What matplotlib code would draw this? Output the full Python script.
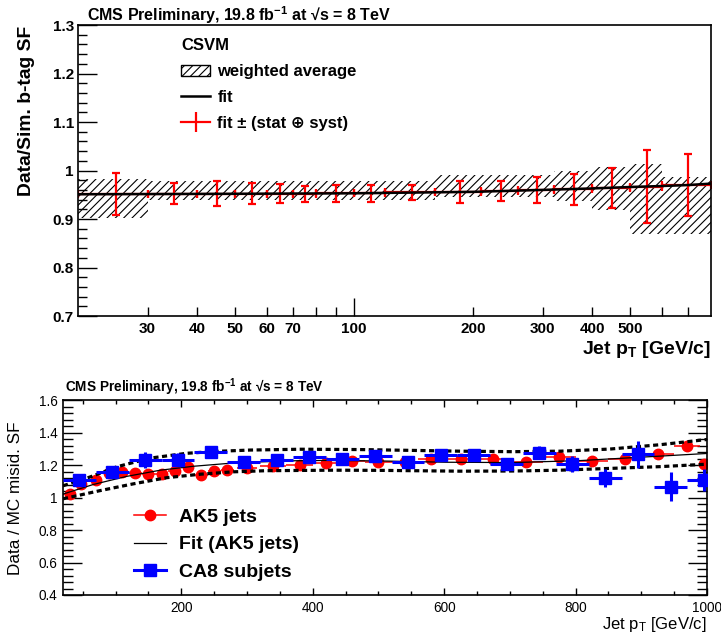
import matplotlib
matplotlib.use('Agg')
import matplotlib.pyplot as plt
import numpy as np
from matplotlib.lines import Line2D
from matplotlib.patches import Patch

plt.rcParams['font.family'] = ['Liberation Sans', 'DejaVu Sans']
plt.rcParams['mathtext.fontset'] = 'custom'
plt.rcParams['mathtext.rm'] = 'Liberation Sans'
plt.rcParams['mathtext.bf'] = 'Liberation Sans:bold'
plt.rcParams['mathtext.it'] = 'Liberation Sans:italic'
plt.rcParams['hatch.linewidth'] = 0.8

# ---- top panel: CSVM b-tag scale factor ----
bin_edges = [20, 30, 40, 50, 60, 70, 80, 100, 120, 160, 210, 260, 320, 400, 500, 600, 800]
bin_pt = [25, 35, 45, 55, 65, 75, 90, 110, 140, 185, 235, 290, 360, 450, 550, 700]
fit_sf = [0.952, 0.952, 0.952, 0.952, 0.952, 0.952, 0.953, 0.953, 0.955, 0.956,
          0.958, 0.960, 0.961, 0.964, 0.967, 0.970]
fit_err = [0.043, 0.022, 0.026, 0.022, 0.020, 0.016, 0.018, 0.017, 0.016, 0.022,
           0.021, 0.027, 0.032, 0.042, 0.076, 0.063]
fitline_pt = [20, 50, 100, 200, 300, 400, 500, 600, 700, 800]
fitline_sf = [0.951, 0.952, 0.953, 0.956, 0.960, 0.963, 0.966, 0.968, 0.970, 0.973]
wavg_edges = [20, 30, 160, 320, 400, 500, 600, 800]
wavg_lo = [0.903, 0.940, 0.946, 0.938, 0.918, 0.870, 0.870]
wavg_hi = [0.983, 0.978, 0.990, 1.000, 1.007, 1.014, 0.986]

# ---- bottom panel: mistag SF ----
ak5_pt = [30, 47, 70, 90, 110, 130, 150, 170, 190, 210, 230, 250, 270, 300, 340,
          380, 420, 460, 500, 540, 580, 625, 675, 725, 775, 825, 875, 925, 970, 995]
ak5_sf = [1.024, 1.086, 1.110, 1.153, 1.157, 1.153, 1.143, 1.146, 1.166, 1.186,
          1.138, 1.162, 1.168, 1.181, 1.195, 1.201, 1.212, 1.225, 1.218, 1.220,
          1.235, 1.235, 1.235, 1.220, 1.247, 1.227, 1.239, 1.265, 1.316, 1.206]
ak5_xerr = [10, 10, 10, 10, 10, 10, 10, 10, 10, 10, 10, 10, 10, 15, 20,
            20, 20, 20, 20, 20, 20, 25, 25, 25, 25, 25, 25, 25, 20, 5]
ak5_yerr = [0.01] * 30

ca8_pt = [45, 95, 145, 195, 245, 295, 345, 395, 445, 495,
          545, 595, 645, 695, 745, 795, 845, 895, 945, 995]
ca8_sf = [1.108, 1.159, 1.231, 1.231, 1.278, 1.216, 1.231, 1.251, 1.239, 1.257,
          1.220, 1.259, 1.259, 1.204, 1.276, 1.204, 1.122, 1.265, 1.067, 1.108]
ca8_yerr = [0.01, 0.015, 0.05, 0.04, 0.035, 0.02, 0.02, 0.02, 0.02, 0.02,
            0.02, 0.02, 0.02, 0.03, 0.038, 0.05, 0.055, 0.085, 0.09, 0.065]
ca8_xerr = [25] * 20

fit5_pt = [20, 66, 117, 168, 218, 269, 320, 371, 421, 502, 603, 705, 806, 908, 1000]
fit5_sf = [1.021, 1.08, 1.13, 1.168, 1.192, 1.209, 1.219, 1.226, 1.228, 1.225,
           1.217, 1.215, 1.227, 1.250, 1.271]
up_pt = [20, 61, 102, 152, 208, 254, 305, 381, 472, 550, 624, 705, 776, 852, 929, 1000]
up_sf = [1.072, 1.126, 1.189, 1.242, 1.272, 1.284, 1.292, 1.297, 1.295, 1.290,
         1.285, 1.282, 1.285, 1.298, 1.325, 1.357]
lo_pt = [20, 76, 127, 178, 228, 279, 330, 431, 502, 624, 705, 776, 852, 929, 1000]
lo_sf = [0.992, 1.042, 1.084, 1.122, 1.143, 1.158, 1.165, 1.168, 1.167, 1.162,
         1.163, 1.168, 1.179, 1.190, 1.205]

fig = plt.figure(figsize=(7.21, 6.32), dpi=100)

# ================= top =================
ax1 = fig.add_axes([78/721, 1-316/632, 633/721, 291/632])
ax1.set_xscale('log')
ax1.set_xlim(20, 800)
ax1.set_ylim(0.7, 1.3)

e = np.array(wavg_edges)
ax1.bar(e[:-1], np.array(wavg_hi) - np.array(wavg_lo), width=np.diff(e),
        bottom=wavg_lo, align='edge', fill=False, hatch='////',
        edgecolor='black', linewidth=0, zorder=1)

be = np.array(bin_edges)
c = np.array(bin_pt)
ax1.errorbar(bin_pt, fit_sf, yerr=fit_err, xerr=[c - be[:-1], be[1:] - c],
             fmt='none', ecolor='red', elinewidth=1.6, capsize=3,
             capthick=1.6, zorder=2)
ax1.plot(fitline_pt, fitline_sf, color='black', lw=1.8, zorder=3)

ax1.set_yticks(np.arange(0.7, 1.31, 0.1))
ax1.set_yticklabels(['0.7', '0.8', '0.9', '1', '1.1', '1.2', '1.3'])
ax1.set_yticks(np.arange(0.7, 1.301, 0.02), minor=True)
ax1.set_xticks([100])
ax1.set_xticklabels(['100'])
minor_x = [30, 40, 50, 60, 70, 80, 90, 200, 300, 400, 500, 600, 700]
ax1.set_xticks(minor_x, minor=True)
ax1.set_xticklabels(['30', '40', '50', '60', '70', '', '', '200', '300', '400',
                     '500', '', ''], minor=True)
ax1.tick_params(which='both', direction='in', top=False, right=False,
                labelsize=11, width=1)
ax1.tick_params(axis='y', which='major', length=13.5, pad=3)
ax1.tick_params(axis='y', which='minor', length=6.5)
ax1.tick_params(axis='x', which='major', length=13, pad=4)
ax1.tick_params(axis='x', which='minor', length=6.5, pad=4)
for lab in ax1.get_xticklabels(which='both') + ax1.get_yticklabels():
    lab.set_fontweight('bold')
for s in ax1.spines.values():
    s.set_linewidth(1.2)

handles = [Patch(facecolor='white', edgecolor='black', hatch='////', linewidth=1),
           Line2D([], [], color='black', lw=1.8),
           Line2D([], [], color='red', lw=1.6, marker='|', markersize=14,
                  markeredgewidth=1.6)]
labels = ['weighted average', 'fit', 'fit \u00b1 (stat \u2295 syst)']
ax1.legend(handles, labels, title='CSVM', loc='upper left',
           bbox_to_anchor=(0.163, 0.954), frameon=False,
           prop=dict(weight='bold', size=12),
           title_fontproperties=dict(weight='bold', size=12),
           alignment='left', handlelength=1.75, handletextpad=0.42,
           labelspacing=0.65, borderaxespad=0, borderpad=0)

fig.text(87/721, 1-21/632, 'CMS Preliminary, 19.8 fb$^{\\mathbf{-1}}$ at \u221as = 8 TeV',
         fontsize=11.5, fontweight='bold', ha='left', va='baseline')
fig.text(27/721, 1-26/632, 'Data/Sim. b-tag SF', rotation=90, fontsize=13.9,
         fontweight='bold', ha='center', va='top')
fig.text(711/721, 1-350/632, 'Jet p$_{\\mathbf{T}}$ [GeV/c]', fontsize=14,
         fontweight='bold', ha='right', va='center')

# ================= bottom =================
ax2 = fig.add_axes([63/721, 1-595/632, 644/721, 195/632])
ax2.set_xlim(20, 1000)
ax2.set_ylim(0.4, 1.6)

ax2.errorbar(ak5_pt, ak5_sf, xerr=ak5_xerr, yerr=ak5_yerr, fmt='o', color='red',
             ms=7.5, elinewidth=1.1, capsize=0, zorder=2)
ax2.plot(fit5_pt, fit5_sf, color='black', lw=0.9, zorder=3)
ax2.plot(up_pt, up_sf, color='black', lw=2.3, ls=(0, (1.6, 1.1)), zorder=3)
ax2.plot(lo_pt, lo_sf, color='black', lw=2.3, ls=(0, (1.6, 1.1)), zorder=3)
ax2.errorbar(ca8_pt, ca8_sf, xerr=ca8_xerr, yerr=ca8_yerr, fmt='s', color='blue',
             ms=8.5, elinewidth=2.2, capsize=0, zorder=4)

ax2.set_xticks([200, 400, 600, 800, 1000])
ax2.set_xticks(np.arange(50, 1000, 50), minor=True)
ax2.set_yticks([0.4, 0.6, 0.8, 1.0, 1.2, 1.4, 1.6])
ax2.set_yticklabels(['0.4', '0.6', '0.8', '1', '1.2', '1.4', '1.6'])
ax2.set_yticks(np.arange(0.4, 1.601, 0.04), minor=True)
ax2.tick_params(which='both', direction='in', top=True, right=True,
                labelsize=9.8, width=1)
ax2.tick_params(axis='y', which='major', length=13.5, pad=4)
ax2.tick_params(axis='y', which='minor', length=7)
ax2.tick_params(axis='x', which='major', length=5, pad=4)
ax2.tick_params(axis='x', which='minor', length=3)
for s in ax2.spines.values():
    s.set_linewidth(1.2)

handles2 = [Line2D([], [], color='red', lw=1.1, marker='o', ms=7.5),
            Line2D([], [], color='black', lw=0.9),
            Line2D([], [], color='blue', lw=2.2, marker='s', ms=8.5)]
labels2 = ['AK5 jets', 'Fit (AK5 jets)', 'CA8 subjets']
ax2.legend(handles2, labels2, loc='upper left', bbox_to_anchor=(0.110, 0.444),
           frameon=False, prop=dict(weight='bold', size=14),
           handlelength=1.65, handletextpad=0.67, labelspacing=0.5,
           borderaxespad=0, borderpad=0)

fig.text(65/721, 1-392/632, 'CMS Preliminary, 19.8 fb$^{\\mathbf{-1}}$ at \u221as = 8 TeV',
         fontsize=9.8, fontweight='bold', ha='left', va='baseline')
fig.text(16/721, 1-498/632, 'Data / MC misid. SF', rotation=90, fontsize=12.3,
         ha='center', va='center')
fig.text(707/721, 1-624/632, 'Jet p$_{\\mathrm{T}}$ [GeV/c]', fontsize=12,
         ha='right', va='center')

fig.savefig('out.png', dpi=100)
